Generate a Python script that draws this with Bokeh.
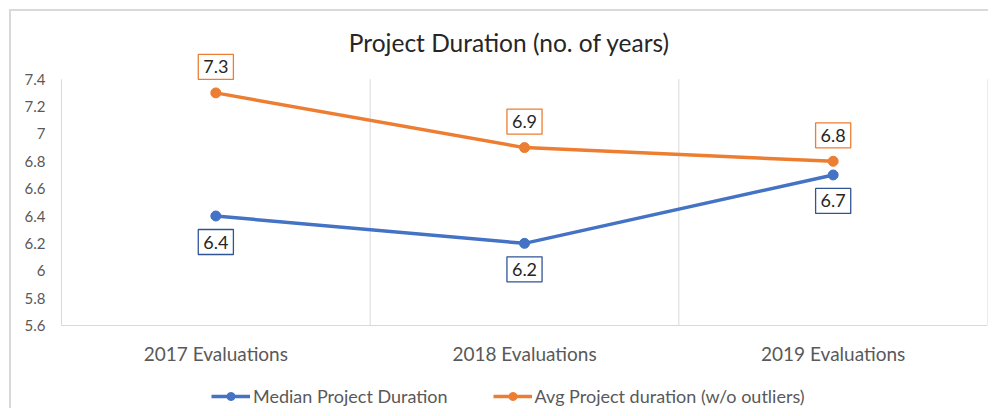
from bokeh.plotting import figure
from bokeh.models import ColumnDataSource, Label, Range1d, FixedTicker, NumeralTickFormatter, Legend, LegendItem
from bokeh.core.properties import value
from bokeh.embed import file_html
from bokeh.resources import INLINE

categories = ["2017 Evaluations", "2018 Evaluations", "2019 Evaluations"]
median_duration = [6.4, 6.2, 6.7]
avg_duration = [7.3, 6.9, 6.8]
y_ticks = [5.6, 5.8, 6, 6.2, 6.4, 6.6, 6.8, 7, 7.2, 7.4]
series_names = ["Median Project Duration", "Avg Project duration (w/o outliers)"]
title_text = "Project Duration (no. of years)"

BLUE = "#4472C4"
BLUE_DARK = "#2F5597"
ORANGE = "#ED7D31"
GRID = "#d9d9d9"
FONT = "Lato"

src_med = ColumnDataSource(dict(x=categories, y=median_duration))
src_avg = ColumnDataSource(dict(x=categories, y=avg_duration))
y_lo, y_hi = y_ticks[0], y_ticks[-1]
bounds = [(c, -0.5) for c in categories] + [(categories[-1], 0.5)]
src_grid = ColumnDataSource(dict(x=bounds, y0=[y_lo] * len(bounds), y1=[y_hi] * len(bounds)))
src_cat = ColumnDataSource(dict(x=categories, y=[y_lo] * len(categories), t=categories))

chart_border = ("linear-gradient(#d9d9d9, #d9d9d9) 9px 9px / 2px 100% no-repeat, "
                "linear-gradient(#d9d9d9, #d9d9d9) 9px 9px / 100% 2px no-repeat")

p = figure(x_range=categories, y_range=Range1d(5.0, 7.8),
           frame_width=926, frame_height=383,
           min_border_left=61, min_border_right=1, min_border_top=24, min_border_bottom=1,
           output_backend="svg", toolbar_location=None,
           styles={"background": chart_border})

p.outline_line_color = None
p.background_fill_color = None
p.border_fill_color = None

# x axis baseline as a single y grid line, vertical separators as segments
p.ygrid.ticker = FixedTicker(ticks=[y_lo])
p.ygrid.grid_line_color = GRID
p.xgrid.grid_line_color = None
p.segment(x0="x", y0="y0", x1="x", y1="y1", source=src_grid, line_color=GRID, line_width=1)

# axes
p.xaxis.visible = False
p.yaxis.ticker = FixedTicker(ticks=y_ticks)
p.yaxis.bounds = (y_lo, y_hi)
p.yaxis.formatter = NumeralTickFormatter(format="0.[0]")
p.yaxis.axis_line_color = GRID
p.yaxis.major_tick_line_color = None
p.yaxis.minor_tick_line_color = None
p.yaxis.major_tick_out = 0
p.yaxis.major_tick_in = 0
p.yaxis.major_label_standoff = 16
p.yaxis.major_label_text_font = FONT
p.yaxis.major_label_text_font_size = "15px"
p.yaxis.major_label_text_color = "#595959"

# category labels
p.text(x="x", y="y", text="t", source=src_cat, y_offset=28, text_align="center",
       text_baseline="middle", text_font=value(FONT), text_font_size="19px", text_color="#595959")

l1 = p.line("x", "y", source=src_med, line_color=BLUE, line_width=3.5)
c1 = p.scatter("x", "y", source=src_med, size=10, fill_color=BLUE, line_color=BLUE)
l2 = p.line("x", "y", source=src_avg, line_color=ORANGE, line_width=3.5)
c2 = p.scatter("x", "y", source=src_avg, size=10, fill_color=ORANGE, line_color=ORANGE)

common = dict(text_align="center", text_baseline="middle",
              text_font=FONT, text_font_size="18px", text_color="#262626",
              background_fill_color="white", border_line_width=1.3, padding=(5, 6))
for i, v in enumerate(median_duration):
    p.add_layout(Label(x=i + 0.5, y=v, text=f"{v:g}", y_offset=-26, border_line_color=BLUE_DARK, **common))
for i, v in enumerate(avg_duration):
    p.add_layout(Label(x=i + 0.5, y=v, text=f"{v:g}", y_offset=26, border_line_color=ORANGE, **common))

# title
p.add_layout(Label(x=len(categories) / 2, y=y_hi, text=title_text, x_offset=-15, y_offset=37,
                   text_align="center", text_baseline="middle", text_font=FONT,
                   text_font_size="24.5px", text_color="#262626"))

legend = Legend(items=[LegendItem(label=series_names[0], renderers=[l1, c1]),
                       LegendItem(label=series_names[1], renderers=[l2, c2])],
                orientation="horizontal", location=(150, 0),
                label_text_font=FONT, label_text_font_size="18px", label_text_color="#595959",
                glyph_width=39, glyph_height=20, label_standoff=3, spacing=45,
                border_line_color=None, background_fill_alpha=0, padding=0, margin=0)
p.add_layout(legend, "center")

open("out.html", "w").write(file_html(p, INLINE))
